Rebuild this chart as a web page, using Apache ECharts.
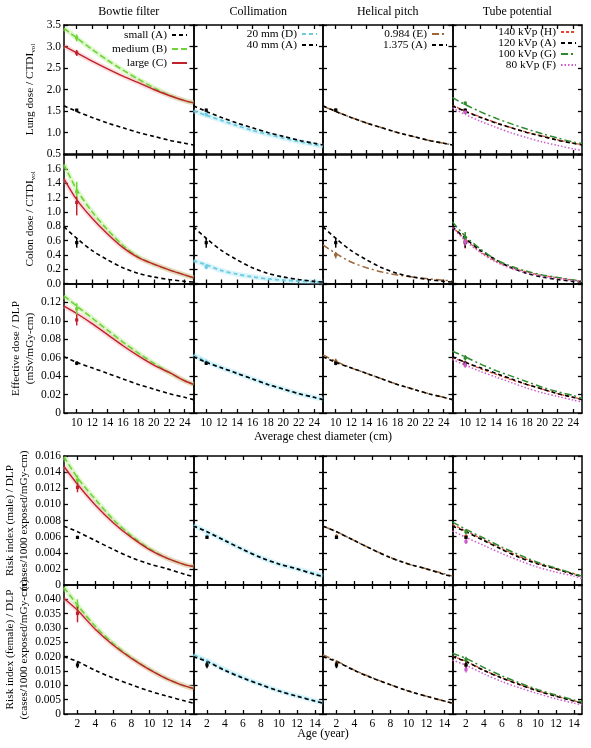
<!DOCTYPE html>
<html><head><meta charset="utf-8">
<script src="https://cdn.jsdelivr.net/npm/echarts@6/dist/echarts.min.js"></script>
<style>html,body{margin:0;padding:0;background:#fff}#c{width:591px;height:748px}</style>
</head><body><div id="c"></div>
<script>
const FONT = '"Liberation Serif","Times New Roman",serif';

// x positions of the curve samples
const diamX = [8.35, 10, 12, 14, 16, 18, 20, 22, 24, 25.15];
const ageX = [0.5, 2, 4, 6, 8, 10, 12, 14, 14.9];
const diamTicks = [10, 12, 14, 16, 18, 20, 22, 24];
const ageTicks = [2, 4, 6, 8, 10, 12, 14];

// Lung dose / CTDIvol (vs chest diameter)
const lungA = [1.62, 1.49, 1.35, 1.22, 1.11, 1.00, 0.91, 0.82, 0.75, 0.71];
const lungB = [3.42, 3.20, 2.93, 2.68, 2.45, 2.24, 2.04, 1.87, 1.74, 1.69];
const lungC = [3.01, 2.85, 2.66, 2.48, 2.31, 2.16, 2.00, 1.86, 1.74, 1.69];
const lungD = [1.50, 1.40, 1.28, 1.16, 1.05, 0.96, 0.87, 0.79, 0.72, 0.68];
const lungE = [1.61, 1.49, 1.35, 1.22, 1.11, 1.00, 0.91, 0.82, 0.75, 0.71];
const lungH = [1.63, 1.50, 1.36, 1.23, 1.11, 1.01, 0.92, 0.83, 0.75, 0.72];
const lungG = [1.81, 1.65, 1.48, 1.33, 1.20, 1.08, 0.97, 0.87, 0.78, 0.75];
const lungF = [1.57, 1.42, 1.26, 1.12, 0.99, 0.88, 0.78, 0.70, 0.62, 0.58];

// Colon dose / CTDIvol
const colonA = [0.79, 0.63, 0.46, 0.33, 0.22, 0.14, 0.09, 0.056, 0.03, 0.02];
const colonB = [1.66, 1.31, 1.00, 0.75, 0.53, 0.37, 0.27, 0.19, 0.12, 0.08];
const colonC = [1.46, 1.17, 0.91, 0.69, 0.50, 0.36, 0.27, 0.19, 0.12, 0.08];
const colonD = [0.32, 0.26, 0.18, 0.13, 0.093, 0.065, 0.047, 0.033, 0.023, 0.02];
const colonE = [0.54, 0.42, 0.30, 0.22, 0.16, 0.12, 0.09, 0.065, 0.045, 0.035];
const colonH = [0.79, 0.62, 0.44, 0.31, 0.22, 0.16, 0.11, 0.08, 0.047, 0.032];
const colonG = [0.86, 0.66, 0.48, 0.33, 0.24, 0.17, 0.12, 0.085, 0.05, 0.035];
const colonF = [0.78, 0.60, 0.43, 0.30, 0.21, 0.15, 0.10, 0.07, 0.04, 0.03];

// Effective dose / DLP
const effA = [0.061, 0.055, 0.049, 0.043, 0.037, 0.031, 0.026, 0.021, 0.017, 0.0145];
const effB = [0.127, 0.116, 0.103, 0.090, 0.077, 0.065, 0.054, 0.044, 0.035, 0.031];
const effC = [0.116, 0.108, 0.097, 0.085, 0.073, 0.062, 0.052, 0.044, 0.035, 0.031];
const effD = [0.063, 0.056, 0.049, 0.043, 0.037, 0.031, 0.026, 0.021, 0.017, 0.015];
const effE = [0.063, 0.056, 0.049, 0.043, 0.037, 0.031, 0.026, 0.021, 0.017, 0.0145];
const effH = [0.060, 0.055, 0.048, 0.042, 0.036, 0.031, 0.026, 0.021, 0.017, 0.015];
const effG = [0.067, 0.061, 0.053, 0.046, 0.040, 0.034, 0.028, 0.023, 0.019, 0.016];
const effF = [0.058, 0.052, 0.045, 0.039, 0.033, 0.027, 0.022, 0.018, 0.014, 0.012];

// Risk index (male) / DLP (vs age)
const maleA = [0.0073, 0.0066, 0.0055, 0.0044, 0.0034, 0.0026, 0.0020, 0.0013, 0.00105];
const maleB = [0.0159, 0.0133, 0.0106, 0.0081, 0.0061, 0.0045, 0.0033, 0.0025, 0.0023];
const maleC = [0.0147, 0.0125, 0.0099, 0.0077, 0.0059, 0.0044, 0.0033, 0.0025, 0.0023];
const maleD = [0.0074, 0.0066, 0.0055, 0.0044, 0.0034, 0.0026, 0.0020, 0.0014, 0.0011];
const maleE = [0.0073, 0.0066, 0.0055, 0.0044, 0.0034, 0.0026, 0.0020, 0.0014, 0.0011];
const maleH = [0.0075, 0.0067, 0.0056, 0.0045, 0.0035, 0.0027, 0.0020, 0.0014, 0.0011];
const maleG = [0.0078, 0.0069, 0.0058, 0.0047, 0.0037, 0.0028, 0.0021, 0.0014, 0.0011];
const maleF = [0.0067, 0.0059, 0.0049, 0.0039, 0.0030, 0.0022, 0.0016, 0.0011, 0.0008];

// Risk index (female) / DLP
const femaleA = [0.0200, 0.0183, 0.0152, 0.0125, 0.0102, 0.0080, 0.0062, 0.0045, 0.0038];
const femaleB = [0.0441, 0.0380, 0.0305, 0.0245, 0.0196, 0.0156, 0.0122, 0.0097, 0.0089];
const femaleC = [0.0403, 0.0362, 0.0295, 0.0240, 0.0194, 0.0155, 0.0122, 0.0097, 0.0089];
const femaleD = [0.0206, 0.0186, 0.0154, 0.0127, 0.0103, 0.0081, 0.0063, 0.0046, 0.0039];
const femaleE = [0.0206, 0.0185, 0.0153, 0.0126, 0.0102, 0.0080, 0.0062, 0.0045, 0.0038];
const femaleH = [0.0202, 0.0184, 0.0153, 0.0126, 0.0103, 0.0081, 0.0063, 0.0046, 0.0040];
const femaleG = [0.0212, 0.0194, 0.0162, 0.0133, 0.0108, 0.0085, 0.0066, 0.0049, 0.0042];
const femaleF = [0.0188, 0.0170, 0.0140, 0.0113, 0.0091, 0.0071, 0.0053, 0.0038, 0.0032];

// measured points with error bars: [value, low, high], order A,B,C,D,E,H,G,F
const cfgOrder = ['A', 'B', 'C', 'D', 'E', 'H', 'G', 'F'];
const lungPts = [[1.52,1.49,1.55],[3.20,3.12,3.28],[2.85,2.78,2.92],[1.42,1.37,1.47],[1.52,1.48,1.56],[1.50,1.46,1.54],[1.68,1.64,1.72],[1.47,1.43,1.51]];
const colonPts = [[0.57,0.50,0.64],[1.28,1.17,1.42],[1.13,0.95,1.21],[0.23,0.20,0.27],[0.40,0.35,0.44],[0.60,0.49,0.64],[0.64,0.58,0.72],[0.58,0.53,0.62]];
const effPts = [[0.054,0.052,0.056],[0.113,0.106,0.119],[0.101,0.095,0.107],[0.055,0.052,0.058],[0.056,0.052,0.059],[0.053,0.050,0.056],[0.060,0.057,0.063],[0.052,0.049,0.055]];
const malePts = [[0.0059,0.0057,0.0061],[0.0130,0.0122,0.0136],[0.0121,0.0115,0.0127],[0.0060,0.0057,0.0063],[0.0060,0.0057,0.0063],[0.0060,0.0057,0.0063],[0.0066,0.0063,0.0069],[0.0054,0.0051,0.0057]];
const femalePts = [[0.0171,0.0160,0.0183],[0.0374,0.0349,0.0400],[0.0351,0.0320,0.0374],[0.0175,0.0163,0.0190],[0.0177,0.0160,0.0188],[0.0171,0.0160,0.0183],[0.0190,0.0180,0.0200],[0.0155,0.0145,0.0165]];

const colTitles = ['Bowtie filter', 'Collimation', 'Helical pitch', 'Tube potential'];
const colCfgs = [['A','B','C'], ['D','A'], ['E','A'], ['H','A','G','F']];
const colNames = [
  {A:'small (A)', B:'medium (B)', C:'large (C)'},
  {D:'20 mm (D)', A:'40 mm (A)'},
  {E:'0.984 (E)', A:'1.375 (A)'},
  {H:'140 kVp (H)', A:'120 kVp (A)', G:'100 kVp (G)', F:'80 kVp (F)'}
];
const legendOrder = [['A','B','C'], ['D','A'], ['E','A'], ['H','A','G','F']];

const styleOf = {
  A: {color:'#000000', type:[4,3], width:1.6, band:null},
  B: {color:'#6fd43a', type:[6,3], width:1.6, band:'rgba(175,238,130,0.40)'},
  C: {color:'#c0222c', type:'solid', width:1.4, band:'rgba(245,160,170,0.35)'},
  D: {color:'#6ccbe0', type:[4,3], width:1.8, band:'rgba(160,228,242,0.40)'},
  E: {color:'#9c6638', type:[7,3,2,3], width:1.5, band:null},
  H: {color:'#e3482c', type:[3,2], width:1.3, band:null},
  G: {color:'#2e8a2e', type:[7,3,2,3], width:1.5, band:null},
  F: {color:'#cc5ccc', type:[1.5,2], width:1.5, band:null}
};

const fmtZero = d => v => (v === 0 ? '0' : v.toFixed(d));
const rows = [
  {x: diamX, px: 10, ticks: diamTicks, xmin: 8.35, xmax: 25.15,
   curves: {A:lungA,B:lungB,C:lungC,D:lungD,E:lungE,H:lungH,G:lungG,F:lungF}, pts: lungPts,
   ymin: 0.5, ymax: 3.5, step: 0.5, fmt: v => v.toFixed(1), showMax: true,
   name: '{a|Lung dose / CTDI}{s|vol}', gap: 27},
  {x: diamX, px: 10, ticks: diamTicks, xmin: 8.35, xmax: 25.15,
   curves: {A:colonA,B:colonB,C:colonC,D:colonD,E:colonE,H:colonH,G:colonG,F:colonF}, pts: colonPts,
   ymin: 0, ymax: 1.8, step: 0.2, fmt: v => v.toFixed(1), showMax: false,
   name: '{a|Colon dose / CTDI}{s|vol}', gap: 27},
  {x: diamX, px: 10, ticks: diamTicks, xmin: 8.35, xmax: 25.15,
   curves: {A:effA,B:effB,C:effC,D:effD,E:effE,H:effH,G:effG,F:effF}, pts: effPts,
   ymin: 0, ymax: 0.14, step: 0.02, fmt: fmtZero(2), showMax: false,
   name: '{a|Effective dose / DLP}\n{a|(mSv/mGy-cm)}', gap: 25},
  {x: ageX, px: 2, ticks: ageTicks, xmin: 0.5, xmax: 14.9,
   curves: {A:maleA,B:maleB,C:maleC,D:maleD,E:maleE,H:maleH,G:maleG,F:maleF}, pts: malePts,
   ymin: 0, ymax: 0.016, step: 0.002, fmt: fmtZero(3), showMax: true,
   name: '{a|Risk index (male) / DLP}\n{a|(cases/1000 exposed/mGy-cm)}', gap: 29.5},
  {x: ageX, px: 2, ticks: ageTicks, xmin: 0.5, xmax: 14.9,
   curves: {A:femaleA,B:femaleB,C:femaleC,D:femaleD,E:femaleE,H:femaleH,G:femaleG,F:femaleF}, pts: femalePts,
   ymin: 0, ymax: 0.045, step: 0.005, fmt: fmtZero(3), showMax: false,
   name: '{a|Risk index (female) / DLP}\n{a|(cases/1000 exposed/mGy-cm)}', gap: 31}
];

const rowTop = [25, 154.5, 284, 456, 585];
const rowH = 129;
const colLeft = 64, colW = 129.5;
const FS = 11.5;
const NFS = 11.3;

const grid = [], xAxis = [], yAxis = [], series = [];
rows.forEach((row, r) => {
  for (let c = 0; c < 4; c++) {
    const g = grid.length;
    grid.push({left: colLeft + c * colW, top: rowTop[r], width: colW, height: rowH, outerBoundsMode: 'none', containLabel: false});
    const axLine = {show: true, onZero: false, lineStyle: {color: '#000', width: 1.5}};
    const tick = {show: true, inside: true, length: 4, lineStyle: {color: '#000', width: 1.3}};
    const showXLab = (r === 2 || r === 4);
    xAxis.push({type: 'value', gridIndex: g, min: row.xmin, max: row.xmax, position: 'bottom',
      axisLine: axLine, splitLine: {show: false},
      axisTick: Object.assign({customValues: row.ticks}, tick),
      axisLabel: {show: showXLab, customValues: row.ticks, margin: 4, color: '#000', fontFamily: FONT, fontSize: FS}});
    xAxis.push({type: 'value', gridIndex: g, min: row.xmin, max: row.xmax, position: 'top',
      axisLine: axLine, splitLine: {show: false},
      axisTick: Object.assign({customValues: row.ticks}, tick),
      axisLabel: {show: false}});
    yAxis.push({type: 'value', gridIndex: g, min: row.ymin, max: row.ymax, interval: row.step, position: 'left',
      axisLine: axLine, splitLine: {show: false}, axisTick: tick,
      axisLabel: {show: c === 0, showMaxLabel: row.showMax, showMinLabel: true, margin: 3, formatter: row.fmt,
        color: '#000', fontFamily: FONT, fontSize: FS},
      name: c === 0 ? row.name : '', nameLocation: 'middle', nameRotate: 90, nameGap: row.gap,
      nameTextStyle: {color: '#000', fontFamily: FONT, fontSize: NFS, lineHeight: 14,
        rich: {a: {fontFamily: FONT, fontSize: NFS, color: '#000', lineHeight: 14},
               s: {fontFamily: FONT, fontSize: 7, color: '#000', verticalAlign: 'bottom', lineHeight: 14, padding: [6, 0, 0, 0]}}}});
    yAxis.push({type: 'value', gridIndex: g, min: row.ymin, max: row.ymax, interval: row.step, position: 'right',
      axisLine: axLine, splitLine: {show: false}, axisTick: tick, axisLabel: {show: false}});

    const xi = 2 * g, yi = 2 * g;
    colCfgs[c].forEach(cfg => {
      const st = styleOf[cfg];
      const vals = row.curves[cfg];
      const data = row.x.map((xv, i) => [xv, vals[i]]);
      if (st.band) {
        series.push({type: 'line', name: 'band', xAxisIndex: xi, yAxisIndex: yi, data, smooth: 0.3,
          symbol: 'none', silent: true, z: 2, lineStyle: {color: st.band, width: 5}});
      }
    });
    colCfgs[c].forEach(cfg => {
      const st = styleOf[cfg];
      const vals = row.curves[cfg];
      const data = row.x.map((xv, i) => [xv, vals[i]]);
      series.push({type: 'line', name: colNames[c][cfg], xAxisIndex: xi, yAxisIndex: yi, data, smooth: 0.3,
        symbol: 'none', z: 3, itemStyle: {color: st.color},
        lineStyle: {color: st.color, width: st.width, type: st.type}});
      const p = row.pts[cfgOrder.indexOf(cfg)];
      series.push({type: 'custom', name: 'pt', xAxisIndex: xi, yAxisIndex: yi, z: 4, silent: true,
        data: [[row.px, p[0], p[1], p[2]]],
        renderItem: (params, api) => {
          const ctr = api.coord([api.value(0), api.value(1)]);
          const lo = api.coord([api.value(0), api.value(2)]);
          const hi = api.coord([api.value(0), api.value(3)]);
          return {type: 'group', children: [
            {type: 'line', shape: {x1: ctr[0], y1: lo[1], x2: ctr[0], y2: hi[1]}, style: {stroke: st.color, lineWidth: 1.5}},
            {type: 'rect', shape: {x: ctr[0] - 1.6, y: ctr[1] - 1.6, width: 3.2, height: 3.2}, style: {fill: st.color}}
          ]};
        }});
    });
  }
});

const legendRight = [591 - 188, 591 - 318, 591 - 448, 591 - 577];
const legendTop = [29.5, 28.5, 28.5, 26.5];
const legendGap = [3, 0, 0, 0];
const legend = legendOrder.map((ord, c) => ({
  data: ord.map(k => colNames[c][k]),
  orient: 'vertical', align: 'right', right: legendRight[c], top: legendTop[c],
  padding: 0, itemGap: legendGap[c], itemWidth: 15, itemHeight: 10, selectedMode: false,
  itemStyle: {opacity: 0, borderWidth: 0},
  textStyle: {color: '#000', fontFamily: FONT, fontSize: 11.3, lineHeight: 11, padding: [0, 0, 0, 0]}
}));

const graphic = [];
colTitles.forEach((t, c) => {
  graphic.push({type: 'text', x: colLeft + colW * (c + 0.5), y: 12,
    style: {text: t, align: 'center', verticalAlign: 'middle', fill: '#000', font: '12px ' + FONT}});
});
graphic.push({type: 'text', x: 323, y: 437,
  style: {text: 'Average chest diameter (cm)', align: 'center', verticalAlign: 'middle', fill: '#000', font: '12px ' + FONT}});
graphic.push({type: 'text', x: 323, y: 734,
  style: {text: 'Age (year)', align: 'center', verticalAlign: 'middle', fill: '#000', font: '12px ' + FONT}});

const chart = echarts.init(document.getElementById('c'), null, {renderer: 'canvas'});
chart.setOption({
  backgroundColor: '#fff', animation: false,
  grid, xAxis, yAxis, series, legend, graphic
});
</script></body></html>
